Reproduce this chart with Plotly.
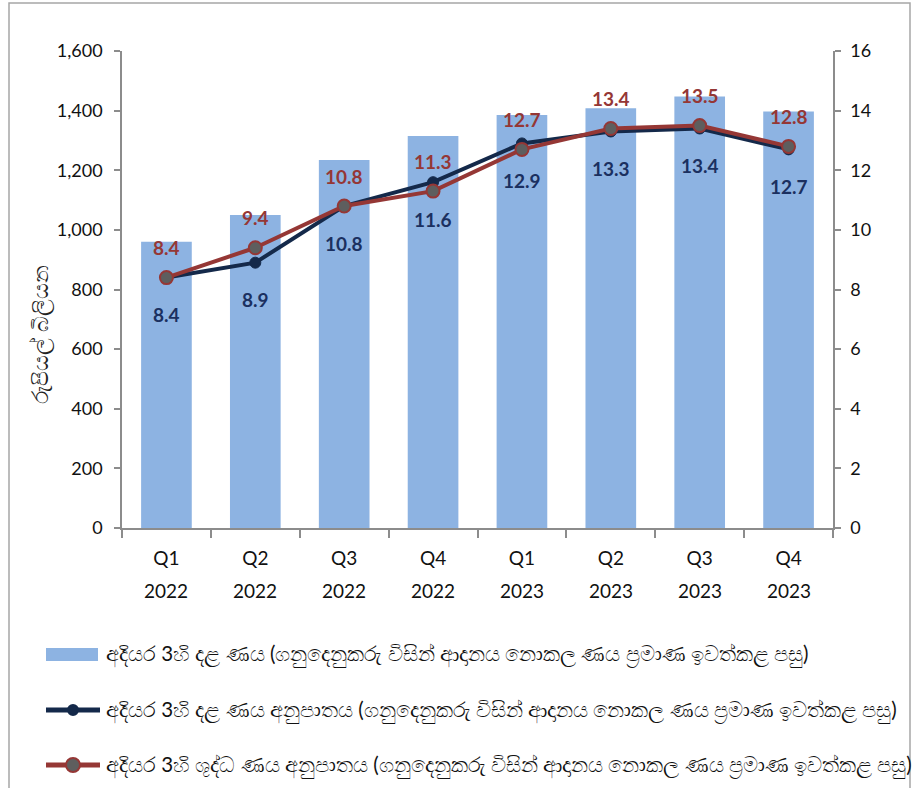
import plotly.graph_objects as go

# Quarterly data
quarter_labels = ["Q1", "Q2", "Q3", "Q4", "Q1", "Q2", "Q3", "Q4"]
year_labels = ["2022", "2022", "2022", "2022", "2023", "2023", "2023", "2023"]
stage3_loans = [960, 1050, 1234, 1315, 1385, 1408, 1447, 1397]      # Rs. bn (left axis)
stage3_gross_ratio = [8.4, 8.9, 10.8, 11.6, 12.9, 13.3, 13.4, 12.7]  # % (right axis)
stage3_net_ratio = [8.4, 9.4, 10.8, 11.3, 12.7, 13.4, 13.5, 12.8]    # % (right axis)

categories = [f"{q} {y}" for q, y in zip(quarter_labels, year_labels)]

names = [
    "අදියර 3හි දළ ණය (ගනුදෙනුකරු විසින් ආදානය නොකල ණය ප්‍රමාණ ඉවත්කළ පසු)",
    "අදියර 3හි දළ ණය අනුපාතය (ගනුදෙනුකරු විසින් ආදානය නොකල ණය ප්‍රමාණ ඉවත්කළ පසු)",
    "අදියර 3හි ශුද්ධ ණය අනුපාතය (ගනුදෙනුකරු විසින් ආදානය නොකල ණය ප්‍රමාණ ඉවත්කළ පසු)",
]
y_title = "රුපියල් බිලියන"

BAR = "#8DB3E2"
NAVY = "#14294A"
NAVY_TXT = "#1B3060"
RED = "#953735"
GREY_MK = "#5E5E5E"
AXIS = "#8C8C8C"
FONT = "Lato, 'Noto Sans', sans-serif"

W, H = 916, 788
ML, MR, MT, MB = 122, 83, 51, 260


def px_x(p):
    """Page pixel column -> paper x."""
    return (p - ML) / (W - ML - MR)


def px_y(p):
    """Page pixel row -> paper y."""
    return (H - MB - p) / (H - MT - MB)


fig = go.Figure()

fig.add_trace(go.Bar(
    x=categories, y=stage3_loans, name=names[0],
    marker=dict(color=BAR, line=dict(width=0)), yaxis="y",
))
fig.add_trace(go.Scatter(
    x=categories, y=stage3_gross_ratio, name=names[1], yaxis="y2",
    mode="lines+markers",
    line=dict(color=NAVY, width=4),
    marker=dict(color=NAVY, size=11, line=dict(color=NAVY, width=1)),
))
fig.add_trace(go.Scatter(
    x=categories, y=stage3_net_ratio, name=names[2], yaxis="y2",
    mode="lines+markers",
    line=dict(color=RED, width=4),
    marker=dict(color=GREY_MK, size=13, line=dict(color=RED, width=2)),
))

# Value labels: net ratio above its point, gross ratio below its point
annotations = []
for c, v in zip(categories, stage3_net_ratio):
    annotations.append(dict(
        x=c, y=v, xref="x", yref="y2", text=f"<b>{v:.1f}</b>",
        showarrow=False, yshift=30,
        font=dict(family=FONT, size=19, color=RED),
    ))
for c, v in zip(categories, stage3_gross_ratio):
    annotations.append(dict(
        x=c, y=v, xref="x", yref="y2", text=f"<b>{v:.1f}</b>",
        showarrow=False, yshift=-37,
        font=dict(family=FONT, size=19, color=NAVY_TXT),
    ))

# Year row under the quarter tick labels
for c, yr in zip(categories, year_labels):
    annotations.append(dict(
        x=c, y=px_y(590), xref="x", yref="paper", text=yr,
        showarrow=False, yanchor="middle",
        font=dict(family=FONT, size=19, color="#111111"),
    ))

# Left axis title
annotations.append(dict(
    x=px_x(40), y=px_y(335), xref="paper", yref="paper", text=y_title,
    showarrow=False, textangle=-90, xanchor="center", yanchor="middle",
    font=dict(family=FONT, size=22, color="#222222"),
))

# Legend drawn below the plot area
shapes = []
legend_rows = [655, 710, 765]
sym_x0, sym_x1, text_x = 46, 100, 104
for i, (row, name) in enumerate(zip(legend_rows, names)):
    if i == 0:
        shapes.append(dict(
            type="rect", xref="paper", yref="paper",
            x0=px_x(sym_x0), x1=px_x(sym_x1 - 2),
            y0=px_y(row + 6), y1=px_y(row - 7),
            fillcolor=BAR, line=dict(width=0),
        ))
    else:
        color = NAVY if i == 1 else RED
        shapes.append(dict(
            type="line", xref="paper", yref="paper",
            x0=px_x(sym_x0), x1=px_x(sym_x1), y0=px_y(row), y1=px_y(row),
            line=dict(color=color, width=5),
        ))
        size = 10 if i == 1 else 14
        fill = NAVY if i == 1 else GREY_MK
        shapes.append(dict(
            type="circle", xref="paper", yref="paper",
            xsizemode="pixel", ysizemode="pixel",
            xanchor=px_x((sym_x0 + sym_x1) / 2), yanchor=px_y(row),
            x0=-size / 2, x1=size / 2, y0=-size / 2, y1=size / 2,
            fillcolor=fill, line=dict(color=color, width=2),
        ))
    annotations.append(dict(
        x=px_x(text_x), y=px_y(row), xref="paper", yref="paper",
        text=name, showarrow=False, xanchor="left", yanchor="middle",
        font=dict(family=FONT, size=20.5, color="#111111"),
    ))

# Outer frame
shapes.append(dict(
    type="rect", xref="paper", yref="paper",
    x0=px_x(9), x1=px_x(910), y0=px_y(800), y1=px_y(3),
    line=dict(color="#A6A6A6", width=1.5), fillcolor="rgba(0,0,0,0)",
    layer="below",
))

fig.update_layout(
    width=W, height=H,
    margin=dict(l=ML, r=MR, t=MT, b=MB),
    paper_bgcolor="white", plot_bgcolor="white",
    font=dict(family=FONT, size=17, color="#111111"),
    bargap=0.43,
    showlegend=False,
    xaxis=dict(
        tickmode="array", tickvals=categories, ticktext=quarter_labels,
        showline=True, linecolor=AXIS, linewidth=1.5,
        ticks="outside", tickson="boundaries", ticklen=8, tickcolor=AXIS,
        tickwidth=1.5, showgrid=False, zeroline=False,
        ticklabelstandoff=12,
        tickfont=dict(family=FONT, size=19, color="#111111"),
    ),
    yaxis=dict(
        range=[0, 1600], dtick=200, tickformat=",d",
        showline=True, linecolor=AXIS, linewidth=1.5,
        ticks="outside", ticklen=6, tickcolor=AXIS, tickwidth=1.5,
        showgrid=False, zeroline=False, ticklabelstandoff=8,
        tickfont=dict(family=FONT, size=18, color="#111111"),
    ),
    yaxis2=dict(
        range=[0, 16], dtick=2, overlaying="y", side="right",
        showline=True, linecolor=AXIS, linewidth=1.5,
        ticks="outside", ticklen=6, tickcolor=AXIS, tickwidth=1.5,
        showgrid=False, zeroline=False, ticklabelstandoff=6,
        tickfont=dict(family=FONT, size=18, color="#111111"),
    ),
    annotations=annotations,
    shapes=shapes,
)

fig.write_html("out.html")
